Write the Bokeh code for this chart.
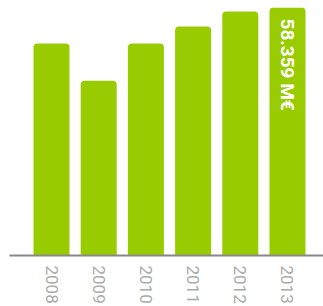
from bokeh.plotting import figure
from bokeh.models import Range1d, FixedTicker, ColumnDataSource
from bokeh.core.properties import value
from bokeh.embed import file_html
from bokeh.resources import INLINE
import math

years = [2008, 2009, 2010, 2011, 2012, 2013]
revenue = [49.9, 41.1, 49.9, 53.9, 57.4, 58.359]
label_text = ["58.359 M€"]
label_year = [2013]
label_value = [58.359]

p = figure(width=323, height=306, output_backend="svg", toolbar_location=None,
           x_range=Range1d(2007.11, 2013.763), y_range=Range1d(0, 58.359),
           min_border_left=9, min_border_right=0, min_border_top=7, min_border_bottom=0)
p.outline_line_color = None
p.background_fill_color = "white"
p.border_fill_color = "white"
p.xgrid.visible = False
p.ygrid.visible = False
p.yaxis.visible = False

src = ColumnDataSource(dict(x=years, top=revenue))
p.vbar(x="x", top="top", width=0.763, bottom=0, source=src, fill_color="#99cc00",
       line_color=None, border_radius=(4, 4, 0, 0))

p.text(x=label_year, y=label_value, text=label_text, angle=-math.pi / 2,
       text_align="left", text_baseline="middle", y_offset=11,
       text_color="white", text_font=value("Roboto"), text_font_style="bold",
       text_font_size="19px")

ax = p.xaxis[0]
ax.ticker = FixedTicker(ticks=years)
ax.axis_line_color = "#888888"
ax.axis_line_width = 2
ax.major_tick_line_color = None
ax.minor_tick_line_color = None
ax.major_tick_out = 0
ax.major_tick_in = 0
ax.major_label_orientation = "vertical"
ax.major_label_text_font = "Roboto"
ax.major_label_text_font_size = "17px"
ax.major_label_text_color = "#aaaaaa"
ax.major_label_standoff = 10

open("out.html", "w").write(file_html(p, INLINE))
